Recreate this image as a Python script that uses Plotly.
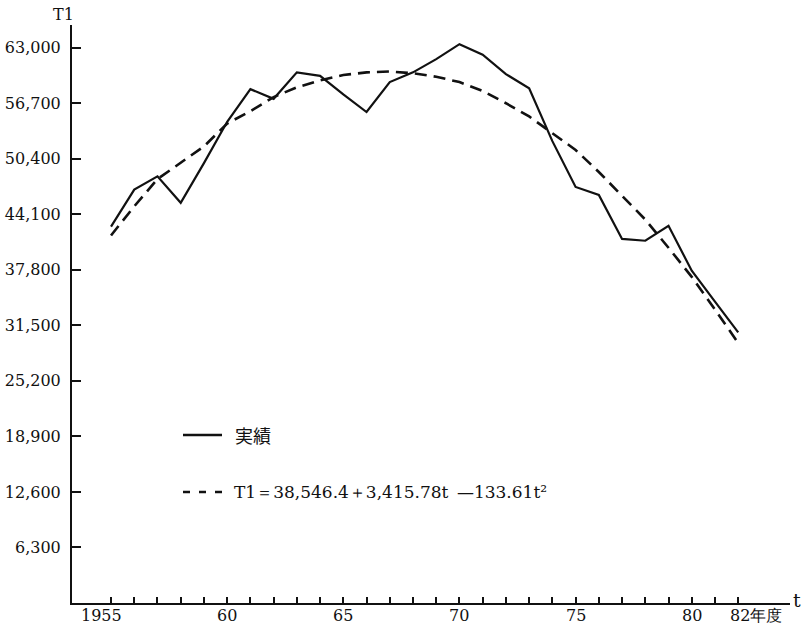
import plotly.graph_objects as go

# ---- data ----
years = list(range(1955, 1983))
actual = [42700, 46900, 48400, 45400, 49900, 54600, 58300, 57200, 60200, 59800,
          57700, 55700, 59100, 60200, 61700, 63400, 62200, 60000, 58400, 52400,
          47200, 46300, 41300, 41100, 42800, 37700, 34200, 30700]
trend = [41700, 45000, 48100, 49900, 51800, 54400, 55800, 57400, 58500, 59300,
         59900, 60200, 60300, 60100, 59700, 59100, 58100, 56700, 55200, 53300,
         51400, 48900, 46200, 43500, 40300, 37000, 33300, 29500]

ytick_vals = [6300, 12600, 18900, 25200, 31500, 37800, 44100, 50400, 56700, 63000]
ytick_text = ["6,300", "12,600", "18,900", "25,200", "31,500", "37,800",
              "44,100", "50,400", "56,700", "63,000"]
xlabel_years = [1955, 1960, 1965, 1970, 1975, 1980, 1982]
xlabel_text = ["1955", "60", "65", "70", "75", "80", "82年度"]

legend_actual = "実績"
legend_trend = "T1＝38,546.4＋3,415.78t\u2002—133.61t²"

# ---- styling ----
W, H = 803, 628
L, R, T, B = 72, 13, 25, 25
pw, ph = W - L - R, H - T - B
SERIF = "'DejaVu Serif', 'Liberation Serif', serif"
INK = "#111111"


def px(x):
    return (x - L) / pw


def py(y):
    return (H - B - y) / ph


fig = go.Figure()
fig.add_trace(go.Scatter(x=years, y=actual, mode="lines", name=legend_actual,
                         line=dict(color=INK, width=2.2), showlegend=False))
fig.add_trace(go.Scatter(x=years, y=trend, mode="lines", name=legend_trend,
                         line=dict(color=INK, width=2.6, dash="12px,7px"),
                         showlegend=False))

fig.update_xaxes(range=[1953.32, 1984.23], showgrid=False, zeroline=False,
                 showline=True, linecolor=INK, linewidth=2,
                 tickvals=years, ticktext=[""] * len(years),
                 ticks="inside", ticklen=6, tickwidth=1.5, tickcolor=INK,
                 automargin=False)
fig.update_yaxes(range=[0, 65575], showgrid=False, zeroline=False,
                 showline=True, linecolor=INK, linewidth=2,
                 tickvals=ytick_vals, ticktext=ytick_text,
                 ticks="inside", ticklen=9, tickwidth=2, tickcolor=INK,
                 ticklabelstandoff=6,
                 tickfont=dict(family=SERIF, size=16, color=INK),
                 automargin=False)

annotations = []
for yr, txt in zip(xlabel_years, xlabel_text):
    shift = 0
    anchor = "center"
    if txt == "1955":
        shift = -10
    if txt.endswith("年度"):
        anchor = "left"
        shift = -10
    annotations.append(dict(x=yr, y=0, xref="x", yref="paper", text=txt,
                            showarrow=False, xanchor=anchor, yanchor="top",
                            xshift=shift, yshift=-1,
                            font=dict(family=SERIF, size=16, color=INK)))
# axis titles
annotations.append(dict(x=px(63), y=py(15), xref="paper", yref="paper", text="T1",
                        showarrow=False, xanchor="center", yanchor="middle",
                        font=dict(family=SERIF, size=16, color=INK)))
annotations.append(dict(x=px(797), y=py(600), xref="paper", yref="paper", text="t",
                        showarrow=False, xanchor="center", yanchor="middle",
                        font=dict(family=SERIF, size=19, color=INK)))
# legend texts
annotations.append(dict(x=px(233), y=py(435), xref="paper", yref="paper",
                        text=legend_actual, showarrow=False, xanchor="left",
                        yanchor="middle",
                        font=dict(family="Noto Sans CJK JP", size=18, color=INK)))
annotations.append(dict(x=px(232), y=py(492), xref="paper", yref="paper",
                        text=legend_trend, showarrow=False, xanchor="left",
                        yanchor="middle",
                        font=dict(family=SERIF, size=17, color=INK)))

shapes = [
    dict(type="line", xref="paper", yref="paper", x0=px(183), x1=px(222),
         y0=py(435), y1=py(435), line=dict(color=INK, width=2.5)),
    dict(type="line", xref="paper", yref="paper", x0=px(183), x1=px(222),
         y0=py(492), y1=py(492), line=dict(color=INK, width=2.5, dash="7px,9px")),
]

fig.update_layout(width=W, height=H, margin=dict(l=L, r=R, t=T, b=B),
                  paper_bgcolor="white", plot_bgcolor="white",
                  showlegend=False, annotations=annotations, shapes=shapes)

fig.write_html("out.html")
